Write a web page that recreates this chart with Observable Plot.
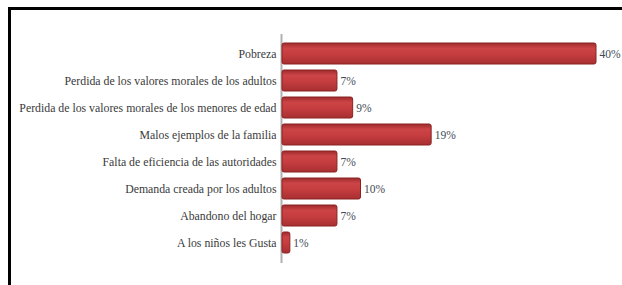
<!DOCTYPE html>
<html>
<head>
<meta charset="utf-8">
<script src="https://cdn.jsdelivr.net/npm/d3@7"></script>
<script src="https://cdn.jsdelivr.net/npm/@observablehq/plot@0.6"></script>
<style>
  html, body { margin: 0; padding: 0; background: #fff; }
  #wrap { position: relative; width: 622px; height: 285px; overflow: hidden; }
  #frame { position: absolute; left: 8px; top: 7px; right: -5px; bottom: -5px;
           border-left: 3px solid #000; border-top: 3px solid #000; pointer-events: none; }
  #wrap svg, #wrap svg text { font-family: "Liberation Serif", "Times New Roman", "DejaVu Serif", serif !important; }
</style>
</head>
<body>
<div id="wrap"><div id="frame"></div></div>
<script>
const categories = [
  "Pobreza",
  "Perdida de los valores morales de los adultos",
  "Perdida de los valores morales de los menores de edad",
  "Malos ejemplos de la familia",
  "Falta de eficiencia de las autoridades",
  "Demanda creada por los adultos",
  "Abandono del hogar",
  "A los niños les Gusta"
];
const values = [40, 7, 9, 19, 7, 10, 7, 1];
const labels = ["40%", "7%", "9%", "19%", "7%", "10%", "7%", "1%"];

const data = categories.map((c, i) => ({cat: c, v: values[i], lab: labels[i]}));

const chart = Plot.plot({
  width: 622,
  height: 285,
  marginLeft: 282,
  marginRight: 26,
  marginTop: 34,
  marginBottom: 22,
  style: {fontSize: "11.8px", color: "#3a3a3a", background: "transparent"},
  x: {domain: [0, 40], axis: null},
  y: {domain: categories, padding: 0.21, label: null, tickSize: 0, tickPadding: 6},
  marks: [
    Plot.ruleX([0], {stroke: "#b0b0b0", strokeWidth: 2, dx: -1}),
    Plot.barX(data, {x: "v", y: "cat", fill: "url(#barGrad)", stroke: "#8a2222", strokeWidth: 1, rx: 2}),
    Plot.text(data, {x: "v", y: "cat", text: "lab", dx: 3, textAnchor: "start", fill: "#3f4a55", fontSize: 11.5})
  ]
});

const ns = "http://www.w3.org/2000/svg";
const defs = document.createElementNS(ns, "defs");
defs.innerHTML = `<linearGradient id="barGrad" x1="0" y1="0" x2="0" y2="1">
  <stop offset="0" stop-color="#9e2a2c"/>
  <stop offset="0.25" stop-color="#cc4446"/>
  <stop offset="0.55" stop-color="#c53d3f"/>
  <stop offset="1" stop-color="#a82f31"/>
</linearGradient>`;
chart.insertBefore(defs, chart.firstChild);
chart.style.position = "absolute";
chart.style.left = "0";
chart.style.top = "0";
document.getElementById("wrap").insertBefore(chart, document.getElementById("frame"));
</script>
</body>
</html>
